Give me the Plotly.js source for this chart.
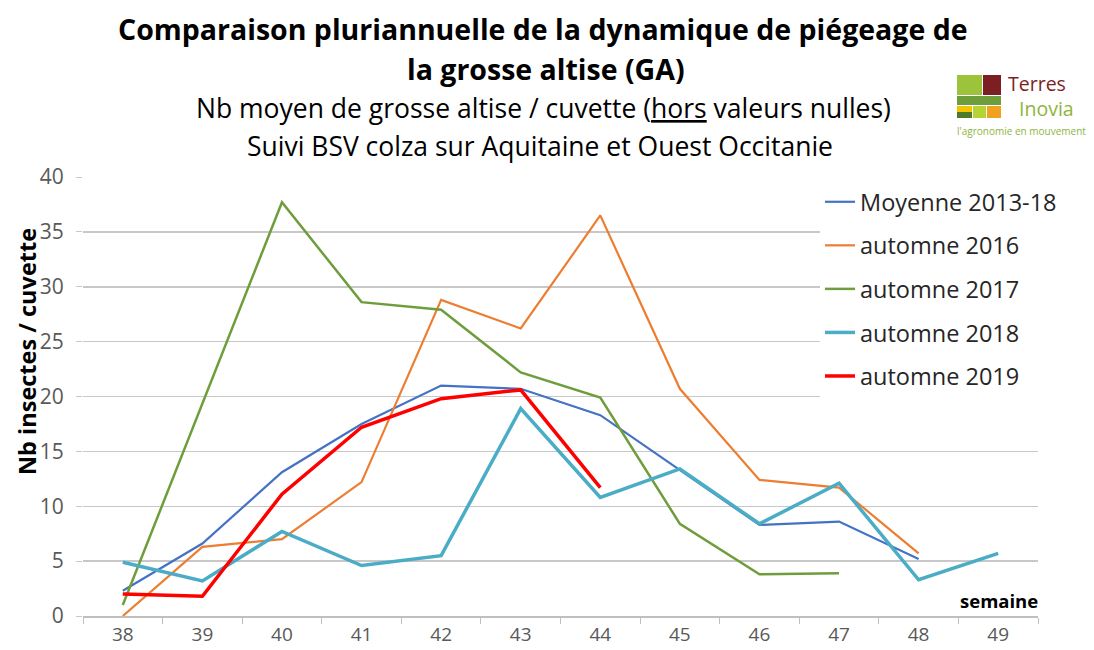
<!DOCTYPE html>
<html>
<head>
<meta charset="utf-8">
<script src="https://cdn.plot.ly/plotly-3.0.1.min.js"></script>
<style>html,body{margin:0;padding:0;background:#fff;}#chart{width:1094px;height:650px;}</style>
</head>
<body>
<div id="chart"></div>
<script>
// ---- data ----
const weeks = ["38","39","40","41","42","43","44","45","46","47","48","49"];
const moyenne = [2.3, 6.6, 13.1, 17.5, 21.0, 20.7, 18.3, 13.3, 8.3, 8.6, 5.2, null];
const aut2016 = [0.0, 6.3, 7.0, 12.2, 28.8, 26.2, 36.5, 20.7, 12.4, 11.7, 5.7, null];
const aut2017 = [1.0, 19.3, 37.7, 28.6, 27.9, 22.2, 19.9, 8.4, 3.8, 3.9, null, null];
const aut2018 = [4.9, 3.2, 7.7, 4.6, 5.5, 18.9, 10.8, 13.4, 8.4, 12.1, 3.3, 5.7];
const aut2019 = [2.0, 1.8, 11.1, 17.2, 19.8, 20.6, 11.7, null, null, null, null, null];
const seriesNames = ["Moyenne 2013-18", "automne 2016", "automne 2017", "automne 2018", "automne 2019"];
const yTicks = [0, 5, 10, 15, 20, 25, 30, 35, 40];

// ---- geometry helpers (pixel -> paper) ----
const L = 83, R = 1038, T = 177, B = 616;
const px = x => (x - L) / (R - L);
const py = y => (B - y) / (B - T);

const FONT = "Open Sans, sans-serif";
const series = [moyenne, aut2016, aut2017, aut2018, aut2019];
const colors = ["#4472C4", "#ED7D31", "#6E9E3C", "#4BACC6", "#FF0000"];
const widths = [2.2, 2.2, 2.5, 3.5, 3.5];

const traces = series.map((s, i) => ({
  type: "scatter", mode: "lines", x: weeks, y: s, name: seriesNames[i],
  legendgroup: "g" + i,
  line: {color: colors[i], width: widths[i]},
  connectgaps: false, hoverinfo: "skip"
}));

const annotations = [
  {text: "<b>Comparaison pluriannuelle de la dynamique de piégeage de</b>", x: px(543), y: py(29), font: {size: 28.5, color: "#000"}},
  {text: "<b>la grosse altise (GA)</b>", x: px(546), y: py(69), font: {size: 28.5, color: "#000"}},
  {text: "Nb moyen de grosse altise / cuvette (<u>hors</u> valeurs nulles)", x: px(543), y: py(108), font: {size: 26.5, color: "#000"}},
  {text: "Suivi BSV colza sur Aquitaine et Ouest Occitanie", x: px(540), y: py(146), font: {size: 26.5, color: "#000"}},
  {text: "<b>Nb insectes / cuvette</b>", x: px(27), y: py(352), textangle: -90, font: {size: 23.5, color: "#000"}},
  {text: "<b>semaine</b>", x: px(999), y: py(600), font: {size: 18.5, color: "#000"}},
  {text: "Terres", x: px(1006), y: py(83), xanchor: "left", font: {size: 19.5, color: "#7B1F23"}},
  {text: "Inovia", x: px(1017), y: py(109), xanchor: "left", font: {size: 19.5, color: "#8DB53C"}},
  {text: "l'agronomie en mouvement", x: px(955), y: py(131), xanchor: "left", font: {size: 10, color: "#8DB53C"}}
].map(a => Object.assign({xref: "paper", yref: "paper", showarrow: false, xanchor: "center", yanchor: "middle"}, a, {font: Object.assign({family: FONT}, a.font)}));

const rect = (x0, y0, x1, y1, c) => ({type: "rect", xref: "paper", yref: "paper", x0: px(x0), x1: px(x1), y0: py(y1), y1: py(y0), fillcolor: c, line: {width: 0}, layer: "above"});
const shapes = [
  rect(957, 75, 982, 95, "#9CC33A"),
  rect(983, 75, 1001, 95, "#7B1F23"),
  rect(957, 96, 1001, 105, "#6E9E3C"),
  rect(957, 106, 972, 112, "#F2C500"),
  rect(957, 112, 972, 118, "#4E7A2A"),
  rect(973, 106, 986, 118, "#B5D334"),
  rect(987, 106, 1001, 118, "#F0A11E")
];

const layout = {
  width: 1094, height: 650,
  margin: {l: L, r: 1094 - R, t: T, b: 650 - B, pad: 0},
  paper_bgcolor: "#fff", plot_bgcolor: "#fff",
  font: {family: FONT, color: "#595959"},
  showlegend: true,
  legend: {x: px(820), y: py(180), xanchor: "left", yanchor: "top", bgcolor: "#fff",
           font: {size: 23.5, color: "#262626", family: FONT}, tracegroupgap: 10, traceorder: "grouped"},
  xaxis: {type: "category", categoryorder: "array", categoryarray: weeks,
          range: [-0.5, 11.5], tickson: "boundaries", ticks: "outside", ticklen: 6,
          tickcolor: "#BFBFBF", showgrid: false, showline: true, linecolor: "#BFBFBF", linewidth: 1.5,
          tickfont: {size: 19, color: "#595959"}, ticklabelstandoff: 1, fixedrange: true},
  yaxis: {range: [0, 40], tickvals: yTicks, ticks: "outside", ticklen: 6, tickcolor: "#C8C8C8",
          showgrid: true, gridcolor: "#C8C8C8", gridwidth: 1.5, zeroline: false, showline: false,
          tickfont: {size: 21, color: "#595959"}, ticklabelstandoff: 8, fixedrange: true},
  annotations: annotations,
  shapes: shapes
};

Plotly.newPlot("chart", traces, layout, {displayModeBar: false, staticPlot: true});
</script>
</body>
</html>
